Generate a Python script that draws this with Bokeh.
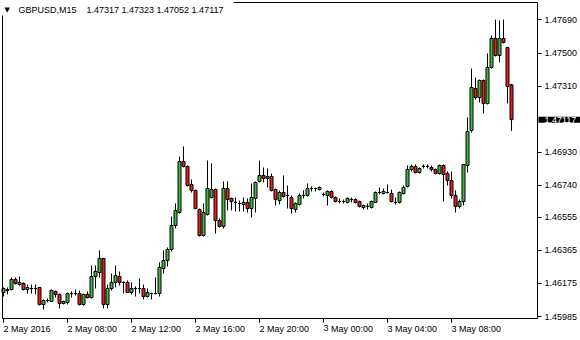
from bokeh.plotting import figure
from bokeh.models import Range1d, LinearAxis, FixedTicker, PrintfTickFormatter, Label, ColumnDataSource
from bokeh.embed import file_html
from bokeh.resources import INLINE

symbol = "GBPUSD,M15"

opens = [1.46123, 1.46135, 1.46140, 1.46198, 1.46169, 1.46175, 1.46140, 1.46146, 1.46146, 1.46152,
         1.46054, 1.46077, 1.46071, 1.46129, 1.46112, 1.46060, 1.46066, 1.46117, 1.46117, 1.46117,
         1.46054, 1.46112, 1.46094, 1.46215, 1.46238, 1.46319, 1.46054, 1.46146, 1.46181, 1.46215,
         1.46181, 1.46181, 1.46123, 1.46146, 1.46146, 1.46146, 1.46100, 1.46117, 1.46117, 1.46117,
         1.46261, 1.46307, 1.46370, 1.46508, 1.46583, 1.46876, 1.46848, 1.46744, 1.46710, 1.46600,
         1.46451, 1.46572, 1.46669, 1.46715, 1.46537, 1.46503, 1.46721, 1.46664, 1.46641, 1.46635,
         1.46629, 1.46641, 1.46606, 1.46664, 1.46761, 1.46796, 1.46779, 1.46790, 1.46715, 1.46652,
         1.46698, 1.46681, 1.46669, 1.46600, 1.46629, 1.46681, 1.46681, 1.46721, 1.46721, 1.46715,
         1.46687, 1.46681, 1.46704, 1.46669, 1.46646, 1.46646, 1.46641, 1.46658, 1.46658, 1.46646,
         1.46612, 1.46618, 1.46612, 1.46641, 1.46698, 1.46692, 1.46698, 1.46692, 1.46641, 1.46641,
         1.46692, 1.46733, 1.46830, 1.46848, 1.46813, 1.46848, 1.46848, 1.46842, 1.46830, 1.46807,
         1.46853, 1.46807, 1.46767, 1.46681, 1.46618, 1.46646, 1.46853, 1.47055, 1.47296, 1.47244,
         1.47342, 1.47210, 1.47417, 1.47584, 1.47486, 1.47584, 1.47532, 1.47317]
highs = [1.46152, 1.46152, 1.46209, 1.46209, 1.46215, 1.46181, 1.46169, 1.46169, 1.46169, 1.46152,
         1.46083, 1.46089, 1.46140, 1.46135, 1.46117, 1.46077, 1.46123, 1.46129, 1.46140, 1.46135,
         1.46117, 1.46129, 1.46278, 1.46278, 1.46365, 1.46319, 1.46169, 1.46232, 1.46278, 1.46244,
         1.46186, 1.46192, 1.46181, 1.46158, 1.46204, 1.46169, 1.46146, 1.46123, 1.46209, 1.46296,
         1.46365, 1.46382, 1.46560, 1.46635, 1.46905, 1.46963, 1.46853, 1.46773, 1.46715, 1.46606,
         1.46635, 1.46882, 1.46865, 1.46721, 1.46549, 1.46761, 1.46761, 1.46669, 1.46669, 1.46652,
         1.46669, 1.46664, 1.46750, 1.46761, 1.46882, 1.46842, 1.46836, 1.46807, 1.46721, 1.46710,
         1.46796, 1.46738, 1.46681, 1.46641, 1.46692, 1.46710, 1.46750, 1.46733, 1.46727, 1.46733,
         1.46698, 1.46710, 1.46710, 1.46675, 1.46664, 1.46658, 1.46669, 1.46669, 1.46664, 1.46652,
         1.46629, 1.46635, 1.46652, 1.46704, 1.46727, 1.46721, 1.46744, 1.46715, 1.46669, 1.46704,
         1.46738, 1.46853, 1.46859, 1.46859, 1.46842, 1.46859, 1.46859, 1.46853, 1.46836, 1.46859,
         1.46859, 1.46819, 1.46819, 1.46710, 1.46658, 1.46859, 1.47129, 1.47411, 1.47359, 1.47348,
         1.47348, 1.47497, 1.47601, 1.47692, 1.47687, 1.47693, 1.47532, 1.47323]
lows = [1.46100, 1.46112, 1.46135, 1.46169, 1.46163, 1.46135, 1.46117, 1.46117, 1.46112, 1.46048,
        1.46025, 1.46066, 1.46071, 1.46094, 1.46031, 1.46054, 1.46054, 1.46094, 1.46106, 1.46048,
        1.46048, 1.46089, 1.46089, 1.46146, 1.46209, 1.46031, 1.46031, 1.46135, 1.46152, 1.46163,
        1.46117, 1.46123, 1.46112, 1.46100, 1.46117, 1.46083, 1.46094, 1.46083, 1.46112, 1.46100,
        1.46232, 1.46273, 1.46359, 1.46491, 1.46577, 1.46842, 1.46733, 1.46698, 1.46600, 1.46445,
        1.46445, 1.46566, 1.46664, 1.46462, 1.46497, 1.46491, 1.46595, 1.46595, 1.46589, 1.46589,
        1.46589, 1.46583, 1.46554, 1.46583, 1.46756, 1.46756, 1.46727, 1.46704, 1.46623, 1.46629,
        1.46669, 1.46606, 1.46577, 1.46583, 1.46623, 1.46664, 1.46675, 1.46704, 1.46704, 1.46710,
        1.46675, 1.46623, 1.46664, 1.46641, 1.46635, 1.46635, 1.46635, 1.46641, 1.46635, 1.46612,
        1.46600, 1.46600, 1.46606, 1.46641, 1.46687, 1.46687, 1.46692, 1.46641, 1.46629, 1.46635,
        1.46687, 1.46727, 1.46819, 1.46807, 1.46807, 1.46836, 1.46836, 1.46819, 1.46802, 1.46802,
        1.46646, 1.46738, 1.46664, 1.46583, 1.46606, 1.46623, 1.46813, 1.47043, 1.47233, 1.47216,
        1.47152, 1.47204, 1.47411, 1.47480, 1.47446, 1.47555, 1.47210, 1.47052]
closes = [1.46146, 1.46140, 1.46198, 1.46175, 1.46181, 1.46140, 1.46152, 1.46146, 1.46146, 1.46054,
          1.46077, 1.46077, 1.46135, 1.46112, 1.46060, 1.46071, 1.46117, 1.46117, 1.46117, 1.46054,
          1.46112, 1.46094, 1.46215, 1.46244, 1.46319, 1.46054, 1.46146, 1.46181, 1.46221, 1.46181,
          1.46181, 1.46123, 1.46146, 1.46146, 1.46146, 1.46100, 1.46123, 1.46117, 1.46117, 1.46267,
          1.46307, 1.46370, 1.46508, 1.46595, 1.46876, 1.46848, 1.46738, 1.46710, 1.46606, 1.46451,
          1.46583, 1.46721, 1.46715, 1.46537, 1.46503, 1.46721, 1.46658, 1.46646, 1.46641, 1.46635,
          1.46641, 1.46606, 1.46669, 1.46756, 1.46796, 1.46779, 1.46790, 1.46710, 1.46658, 1.46698,
          1.46675, 1.46681, 1.46606, 1.46635, 1.46681, 1.46681, 1.46721, 1.46721, 1.46721, 1.46727,
          1.46687, 1.46704, 1.46669, 1.46646, 1.46646, 1.46646, 1.46664, 1.46658, 1.46641, 1.46618,
          1.46623, 1.46618, 1.46646, 1.46698, 1.46698, 1.46704, 1.46698, 1.46646, 1.46641, 1.46698,
          1.46727, 1.46830, 1.46848, 1.46813, 1.46836, 1.46848, 1.46848, 1.46830, 1.46807, 1.46853,
          1.46802, 1.46767, 1.46681, 1.46618, 1.46646, 1.46859, 1.47049, 1.47302, 1.47244, 1.47342,
          1.47210, 1.47417, 1.47584, 1.47486, 1.47584, 1.47561, 1.47308, 1.47117]

time_tick_bars = [0, 16, 32, 48, 64, 80, 96, 112]
time_tick_labels = ["2 May 2016", "2 May 08:00", "2 May 12:00", "2 May 16:00",
                    "2 May 20:00", "3 May 00:00", "3 May 04:00", "3 May 08:00"]
price_ticks = [1.45985, 1.46175, 1.46365, 1.46555, 1.46740, 1.46930, 1.47310, 1.47500, 1.47690]

FONT = "Liberation Sans"
BULL = "#3cbc3c"
BEAR = "#ee1c1c"

# layout (pixels): the frame is the whole 580x340 canvas; the chart area is
# 2..537 (x) by 2..318 (y); 4 px per bar; 0.0000575 price per pixel
W, H = 580, 340
BAR_PX = 4
CHART_L, CHART_R, CHART_T, CHART_B = 2, 537, 2, 318
FIRST_BAR_PX = 3
TITLE_BOX_R, TITLE_BOX_B = 233, 15
PRICE_PER_PX = 0.0000575
price_at_chart_bottom = 1.459735

x_start = -FIRST_BAR_PX / BAR_PX
y_start = price_at_chart_bottom - (H - CHART_B) * PRICE_PER_PX


def xd(px):  # canvas px -> bar units
    return x_start + px / BAR_PX


def yd(px):  # canvas px (from top) -> price
    return y_start + (H - px) * PRICE_PER_PX


n = len(opens)
bar_index = list(range(n))
src = ColumnDataSource(dict(
    x=bar_index, high=highs, low=lows,
    top=[max(o, c) for o, c in zip(opens, closes)],
    bottom=[min(o, c) for o, c in zip(opens, closes)],
    color=[BEAR if c < o else BULL for o, c in zip(opens, closes)],
))

p = figure(width=W, height=H,
           x_range=Range1d(xd(0), xd(W)), y_range=Range1d(yd(H), yd(0)),
           output_backend="svg", toolbar_location=None,
           x_axis_location=None, y_axis_location=None,
           min_border_left=0, min_border_top=0, min_border_right=0, min_border_bottom=0,
           background_fill_color="white", border_fill_color="white",
           outline_line_color=None)
p.grid.visible = False

p.segment(x0="x", y0="low", x1="x", y1="high", source=src, line_color="black", line_width=1)
p.vbar(x="x", width=0.75, top="top", bottom="bottom", source=src,
       fill_color="color", line_color="black", line_width=1)


def style(ax):
    ax.axis_line_color = "black"
    ax.major_tick_line_color = "black"
    ax.major_tick_out = 4
    ax.major_tick_in = 0
    ax.minor_tick_out = 0
    ax.minor_tick_in = 0
    ax.major_label_text_font = FONT
    ax.major_label_text_font_size = "9px"
    ax.major_label_text_color = "black"


# time axis along the bottom of the chart area; labels start at their tick
xaxis = LinearAxis(ticker=FixedTicker(ticks=time_tick_bars, minor_ticks=[]),
                   major_label_overrides={t: l for t, l in zip(time_tick_bars, time_tick_labels)},
                   bounds=(xd(CHART_L), xd(CHART_R)), fixed_location=yd(CHART_B))
style(xaxis)
xaxis.major_label_orientation = -0.0001
xaxis.major_label_standoff = 6
p.add_layout(xaxis, "below")

# price axis along the right edge of the chart area
yaxis = LinearAxis(ticker=FixedTicker(ticks=price_ticks, minor_ticks=[]),
                   formatter=PrintfTickFormatter(format="%.5f"),
                   bounds=(yd(CHART_B), yd(CHART_T)), fixed_location=xd(CHART_R))
style(yaxis)
yaxis.major_label_standoff = 3
p.add_layout(yaxis, "right")

# chart borders on the left and top, left open where the title sits
left_border = LinearAxis(ticker=FixedTicker(ticks=[], minor_ticks=[]),
                         bounds=(yd(CHART_B), yd(TITLE_BOX_B)), fixed_location=xd(CHART_L))
top_border = LinearAxis(ticker=FixedTicker(ticks=[], minor_ticks=[]),
                        bounds=(xd(TITLE_BOX_R), xd(CHART_R)), fixed_location=yd(CHART_T))
for ax in (left_border, top_border):
    style(ax)
    ax.major_tick_out = 0
p.add_layout(left_border, "left")
p.add_layout(top_border, "above")

title = Label(x=18, y=H - 9, x_units="screen", y_units="screen",
              text=f"{symbol}\u00a0\u00a0\u00a0 {opens[-1]:.5f} {highs[-1]:.5f} {lows[-1]:.5f} {closes[-1]:.5f}",
              text_font=FONT, text_font_size="9px", text_color="black",
              text_baseline="middle", text_align="left")
p.add_layout(title)
tri = Label(x=4, y=H - 9, x_units="screen", y_units="screen", text="\u25BC",
            text_font="DejaVu Sans", text_font_size="7px", text_color="black",
            text_baseline="middle", text_align="left")
p.add_layout(tri)

price_label = Label(x=CHART_R + 1, y=closes[-1], x_units="screen", y_units="data",
                    text=f"{closes[-1]:.5f}", text_font=FONT, text_font_size="9px",
                    text_color="white", text_baseline="middle", text_align="left",
                    background_fill_color="black",
                    padding=dict(left=6, right=4, top=0, bottom=0))
p.add_layout(price_label)

open("out.html", "w").write(file_html(p, INLINE))
